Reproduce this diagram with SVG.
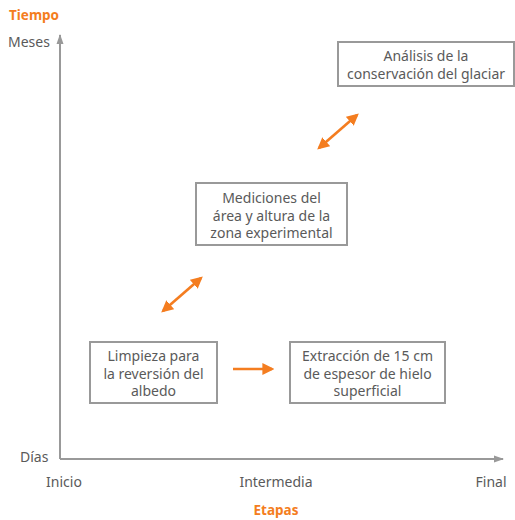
<svg xmlns="http://www.w3.org/2000/svg" width="515" height="520" viewBox="0 0 515 520">
<defs>
<style>
text{font-family:"Noto Sans","Open Sans",sans-serif;font-size:14px;fill:#5a5a5a}
.t{text-anchor:middle}
.o{fill:#f47d20;font-weight:bold;font-size:13.5px}
.box{fill:#fff;stroke:#999;stroke-width:2}
.axis{stroke:#999;stroke-width:2;fill:none}
.oa{stroke:#f47d20;stroke-width:2.6;fill:none}
</style>
<marker id="ga" viewBox="0 0 10 10" refX="9" refY="5" markerWidth="10" markerHeight="10" markerUnits="userSpaceOnUse" orient="auto"><path d="M0,1.5 L10,5 L0,8.5 Z" fill="#999"/></marker>
<marker id="oh" viewBox="0 0 10 10" refX="8" refY="5" markerWidth="12" markerHeight="12" markerUnits="userSpaceOnUse" orient="auto-start-reverse"><path d="M0,0 L10,5 L0,10 Z" fill="#f47d20"/></marker>
</defs>
<g id="axes">
<path class="axis" d="M60,459 L60,35" marker-end="url(#ga)"/>
<path class="axis" d="M60,459 L503,459" marker-end="url(#ga)"/>
<text x="9" y="20" class="o">Tiempo</text>
<text x="8" y="47">Meses</text>
<text x="20" y="462">Días</text>
<text x="64" y="487" class="t">Inicio</text>
<text x="276" y="487" class="t">Intermedia</text>
<text x="491" y="487" class="t">Final</text>
<text x="276" y="515" class="t o">Etapas</text>
</g>
<g id="n1">
<rect class="box" x="90" y="342" width="127" height="61"/>
<text class="t" x="153.5" y="361">Limpieza para</text>
<text class="t" x="153.5" y="378.5">la reversión del</text>
<text class="t" x="153.5" y="396">albedo</text>
</g>
<g id="n2">
<rect class="box" x="290" y="342" width="155" height="61"/>
<text class="t" x="367.5" y="361">Extracción de 15 cm</text>
<text class="t" x="367.5" y="378.5">de espesor de hielo</text>
<text class="t" x="367.5" y="396">superficial</text>
</g>
<g id="n3">
<rect class="box" x="196" y="183" width="151" height="62"/>
<text class="t" x="271.5" y="203">Mediciones del</text>
<text class="t" x="271.5" y="220.5">área y altura de la</text>
<text class="t" x="271.5" y="238">zona experimental</text>
</g>
<g id="n4">
<rect class="box" x="338" y="42" width="176" height="44"/>
<text class="t" x="426" y="61">Análisis de la</text>
<text class="t" x="426" y="79">conservación del glaciar</text>
</g>
<g id="connectors">
<path class="oa" d="M233,369 L272,369" marker-end="url(#oh)"/>
<path class="oa" d="M163,311 L201,278" marker-start="url(#oh)" marker-end="url(#oh)"/>
<path class="oa" d="M319,148 L357,115" marker-start="url(#oh)" marker-end="url(#oh)"/>
</g>
</svg>
